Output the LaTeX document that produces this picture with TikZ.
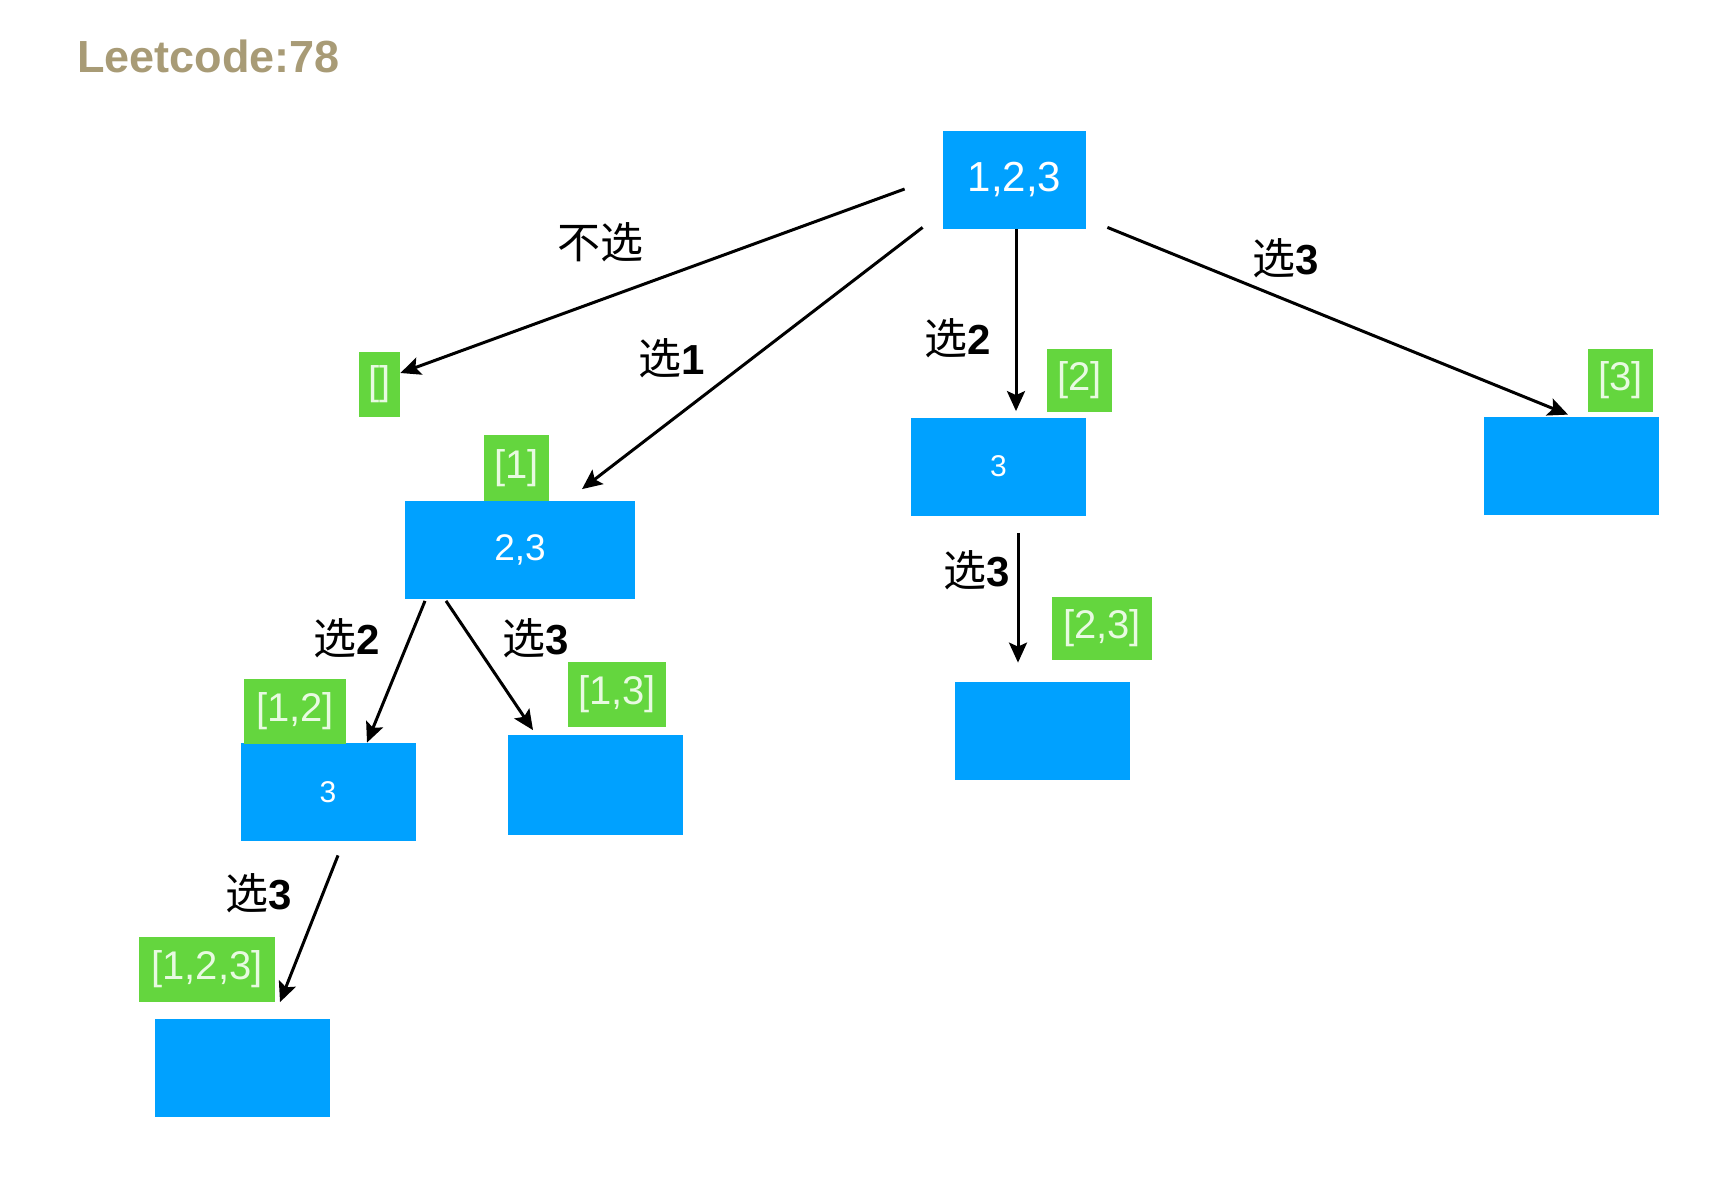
\documentclass[tikz,border=0pt]{standalone}
\usepackage{fontspec}
\setmainfont{Liberation Sans}
\newfontfamily\cjk{Noto Sans CJK SC}
\usetikzlibrary{arrows.meta,calc}
\definecolor{boxblue}{RGB}{0,161,255}
\definecolor{labgreen}{RGB}{100,214,62}
\definecolor{labtext}{RGB}{232,250,225}
\definecolor{titletan}{RGB}{168,155,118}
\newcommand{\zh}[1]{{\cjk\mdseries\fontsize{21.5pt}{21.5pt}\selectfont #1}}
\begin{document}
\begin{tikzpicture}[x=0.5pt,y=-0.5pt,
  bluebox/.style={fill=boxblue, draw=none, minimum width=87.5pt, minimum height=49pt,
    inner sep=0pt, text=white, font=\fontsize{15pt}{15pt}\selectfont},
  grnlab/.style={fill=labgreen, draw=none, minimum height=32.5pt, inner sep=0pt,
    text=labtext, font=\fontsize{20pt}{20pt}\selectfont},
  edgelab/.style={font=\bfseries\fontsize{21pt}{21pt}\selectfont, inner sep=0pt, text=black},
  arr/.style={-{Stealth[length=10pt,width=9pt,inset=2pt]}, line width=1.5pt}]
\useasboundingbox[fill=white] (0,0) rectangle (1730,1180);

% title
\node[anchor=base west, text=titletan, inner sep=0pt,
  font=\bfseries\fontsize{22.5pt}{22.5pt}\selectfont] (title) at (77,72) {Leetcode:78};

% blue boxes
\node[bluebox, minimum width=71.5pt, font=\fontsize{21pt}{21pt}\selectfont] (root) at (1014.5,180) {1,2,3};
\node[bluebox, minimum width=115pt, font=\fontsize{18.5pt}{18.5pt}\selectfont] (b23) at (520,549.5) {2,3};
\node[bluebox] (m3) at (998.5,466.5) {3};
\node[bluebox] (r) at (1571.5,466) {};
\node[bluebox] (l3) at (328,792) {3};
\node[bluebox, minimum height=50pt] (lr) at (595.5,784.5) {};
\node[bluebox] (mb) at (1042,731) {};
\node[bluebox] (bb) at (242,1067.5) {};

% green labels
\node[grnlab, minimum width=20.5pt] (ge) at (379.5,384.5) {[]};
\node[grnlab, minimum width=32.5pt, minimum height=33pt] (g1) at (516.5,468) {[1]};
\node[grnlab, minimum width=32.5pt, minimum height=31.5pt] (g2) at (1079.5,380.5) {[2]};
\node[grnlab, minimum width=32.5pt, minimum height=31.5pt] (g3) at (1620.5,380.5) {[3]};
\node[grnlab, minimum width=51pt] (g12) at (295,711.5) {[1,2]};
\node[grnlab, minimum width=49pt] (g13) at (617,694.5) {[1,3]};
\node[grnlab, minimum width=50pt, minimum height=31.5pt] (g23) at (1102,628.5) {[2,3]};
\node[grnlab, minimum width=68pt] (g123) at (207,969.5) {[1,2,3]};

% connector end points
\coordinate (s0) at ($(root.west)+(-38,9)$);
\coordinate (s1) at ($(root.south west)+(-20,-2)$);
\coordinate (s2) at ($(root.south)+(1.5,0)$);
\coordinate (s3) at ($(root.south east)+(21,-2)$);
\coordinate (s4) at ($(b23.south)+(-95,2)$);
\coordinate (s5) at ($(b23.south)+(-74,2)$);
\coordinate (s6) at ($(l3.south)+(10,14)$);
\coordinate (s7) at ($(m3.south)+(19.5,17)$);

\coordinate (t0) at ($(ge.east)+(0,-11.5)$);
\coordinate (t1) at ($(b23.north)+(62,-11)$);
\coordinate (t2) at ($(m3.north)+(17.5,-6)$);
\coordinate (t3) at ($(r.north)+(-3.5,-2)$);
\coordinate (t4) at ($(l3.north)+(39,0)$);
\coordinate (t5) at ($(lr.north)+(-62.5,-4)$);
\coordinate (t6) at ($(bb.north)+(38,-16)$);
\coordinate (t7) at ($(mb.north)+(-24,-19)$);

% connectors
\draw[arr] (s0) -- (t0);
\draw[arr] (s1) -- (t1);
\draw[arr] (s2) -- (t2);
\draw[arr] (s3) -- (t3);
\draw[arr] (s4) -- (t4);
\draw[arr] (s5) -- (t5);
\draw[arr] (s6) -- (t6);
\draw[arr] (s7) -- (t7);

% edge labels
\node[edgelab] (e0) at (600,242) {\zh{不选}};
\node[edgelab] (e1) at (672,358) {\zh{选}1};
\node[edgelab] (e2) at (958,338) {\zh{选}2};
\node[edgelab] (e3) at (1286,258) {\zh{选}3};
\node[edgelab] (e4) at (347,638) {\zh{选}2};
\node[edgelab] (e5) at (536,638) {\zh{选}3};
\node[edgelab] (e6) at (259,893) {\zh{选}3};
\node[edgelab] (e7) at (977,570) {\zh{选}3};
\end{tikzpicture}
\end{document}
